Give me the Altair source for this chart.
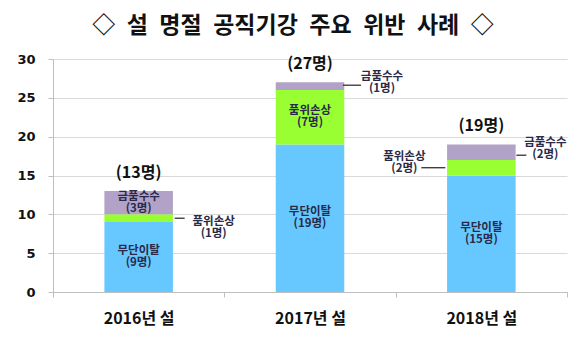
import altair as alt
import pandas as pd

categories = ["2016년 설", "2017년 설", "2018년 설"]
types = ["무단이탈", "품위손상", "금품수수"]
absence = [9, 19, 15]
dignity = [1, 7, 2]
bribery = [3, 1, 2]
totals = [13, 27, 19]
colors = ["#66C8FF", "#99FF33", "#B3A2C7"]
y_ticks = [0, 5, 10, 15, 20, 25, 30]
title_text = "\u25c7\u2002설\u2002명절\u2002공직기강\u2002주요\u2002위반\u2002사례\u2002\u25c7"

rows = []
for i, c in enumerate(categories):
    for j, (t, vals) in enumerate(zip(types, [absence, dignity, bribery])):
        rows.append({"cat": c, "type": t, "value": vals[i], "order": j})
df = pd.DataFrame(rows)
tot = pd.DataFrame({"cat": categories, "total": totals})

FONT = "Noto Sans CJK KR"
TXT = "#2a2a48"

xaxis = alt.Axis(title=None, labelAngle=0, tickBand="extent", domainColor="#bfbfbf",
                 tickColor="#bfbfbf", tickSize=5, labelFont=FONT, labelFontSize=16,
                 labelFontWeight="bold", labelColor="#111111", labelPadding=13, grid=False)
xscale = alt.Scale(domain=categories, paddingInner=0, paddingOuter=0)
yaxis = alt.Axis(title=None, values=y_ticks, grid=True, gridColor="#d9d9d9", domainColor="#bfbfbf",
                 tickColor="#bfbfbf", tickSize=5, labelFont="DejaVu Sans", labelFontSize=13,
                 labelFontWeight="bold", labelColor="#111111", labelPadding=13)
yscale = alt.Scale(domain=[0, 30], nice=False)


def X():
    return alt.X("cat:N", sort=categories, scale=xscale, axis=xaxis)


def Y(field):
    return alt.Y(field, scale=yscale, axis=yaxis)


base = alt.Chart(df).transform_stack(
    stack="value", groupby=["cat"], as_=["y0", "y1"], sort=[alt.SortField("order")]
).transform_calculate(
    mid="(datum.y0 + datum.y1) / 2",
    label="[datum.type, '(' + datum.value + '명)']",
)

bars = base.mark_bar(width=alt.RelativeBandSize(0.4)).encode(
    x=X(),
    y=Y("y0:Q"),
    y2="y1:Q",
    color=alt.Color("type:N", scale=alt.Scale(domain=types, range=colors), legend=None),
)

inside = base.transform_filter("datum.value >= 3").mark_text(
    font=FONT, fontSize=11.5, fontWeight="bold", color=TXT, baseline="middle", lineHeight=12, dy=-6
).encode(x=X(), y=Y("mid:Q"), text="label:N")

total_txt = alt.Chart(tot).transform_calculate(
    lab="'(' + datum.total + '명)'"
).mark_text(font=FONT, fontSize=16, fontWeight="bold", color="#111111", dy=-18).encode(
    x=X(), y=Y("total:Q"), text="lab:N"
)


def annot(cat, typ, rx0, rx1, ry, tdx, tdy):
    sub = base.transform_filter(
        (alt.datum.cat == cat) & (alt.datum.type == typ)
    )
    rule = sub.mark_rule(color="#222222", strokeWidth=1.2, xOffset=rx0, x2Offset=rx1, yOffset=ry).encode(
        x=X(), x2="cat:N", y=Y("mid:Q")
    )
    txt = sub.mark_text(font=FONT, fontSize=11.5, fontWeight="bold", color=TXT,
                        baseline="middle", lineHeight=12, dx=tdx, dy=tdy).encode(
        x=X(), y=Y("mid:Q"), text="label:N"
    )
    return [rule, txt]


layers = [bars, inside, total_txt]
layers += annot("2016년 설", "품위손상", 36, 46, 0, 75, 4)
layers += annot("2017년 설", "금품수수", 33, 51, -1, 72, -9)
layers += annot("2018년 설", "품위손상", -60, -36, 0, -77, -11)
layers += annot("2018년 설", "금품수수", 35, 45, 3, 64, -9)

chart = alt.layer(*layers).properties(
    width=514, height=233,
    autosize=alt.AutoSizeParams(type="none"),
    padding={"left": 53, "top": 59, "right": 13, "bottom": 45},
    title=alt.TitleParams(title_text, font=FONT, fontSize=23,
                          fontWeight="bold", color="#111111", anchor="middle", dx=-17, offset=15),
).configure_view(stroke=None)

chart.save("out.html", embed_options={"renderer": "svg", "actions": False})
